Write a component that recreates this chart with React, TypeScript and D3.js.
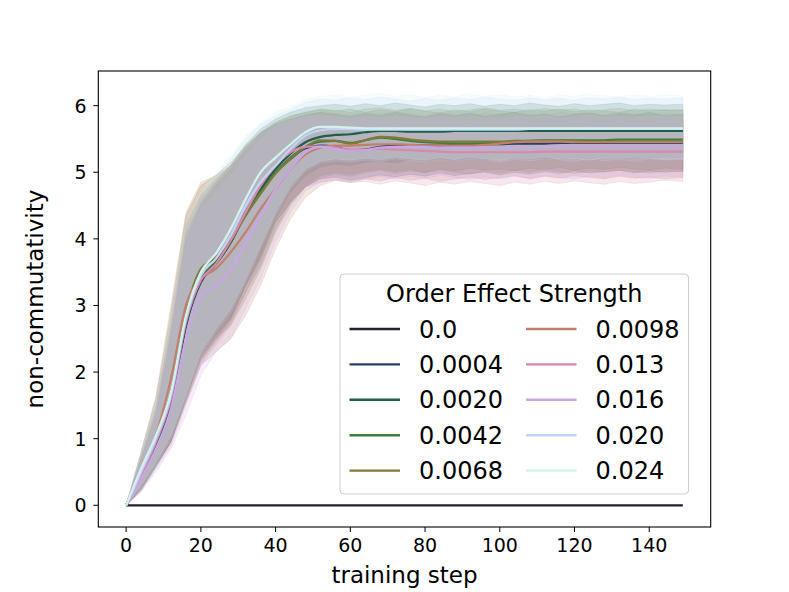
import * as d3 from "d3"

const pasos = [
  0, 4, 8, 12, 16, 20, 24, 28, 32, 36,
  40, 44, 48, 52, 56, 60, 64, 68, 72, 76,
  80, 84, 88, 92, 96, 100, 104, 108, 112, 116,
  120, 124, 128, 132, 136, 140, 144, 149,
]

const etiquetas = ["0.0", "0.0004", "0.0020", "0.0042", "0.0068", "0.0098", "0.013", "0.016", "0.020", "0.024"]
const colores = ["#221d33", "#29405f", "#1e5e4b", "#3f7d3a", "#7d7a3c", "#c1806b", "#d987ae", "#caa6e8", "#c0d4f5", "#d3f2ef"]

const xTicks = [0, 20, 40, 60, 80, 100, 120, 140]
const yTicks = [0, 1, 2, 3, 4, 5, 6]

// medias
const media00 = [
  0, 0, 0, 0, 0, 0, 0, 0, 0, 0,
  0, 0, 0, 0, 0, 0, 0, 0, 0, 0,
  0, 0, 0, 0, 0, 0, 0, 0, 0, 0,
  0, 0, 0, 0, 0, 0, 0, 0,
]
const media0004 = [
  0, 0.45, 0.9, 1.5, 2.7, 3.35, 3.62, 3.95, 4.38, 4.72,
  5.0, 5.2, 5.36, 5.4, 5.38, 5.33, 5.34, 5.38, 5.4, 5.4,
  5.4, 5.4, 5.41, 5.41, 5.42, 5.42, 5.43, 5.43, 5.43, 5.44,
  5.44, 5.44, 5.44, 5.44, 5.44, 5.44, 5.44, 5.44,
]
const media0020 = [
  0, 0.45, 0.9, 1.5, 2.7, 3.38, 3.62, 3.95, 4.4, 4.75,
  5.05, 5.28, 5.45, 5.53, 5.56, 5.57, 5.6, 5.62, 5.62, 5.61,
  5.61, 5.61, 5.62, 5.62, 5.62, 5.62, 5.62, 5.62, 5.62, 5.62,
  5.62, 5.62, 5.62, 5.62, 5.62, 5.62, 5.62, 5.62,
]
const media0042 = [
  0, 0.5, 0.95, 1.58, 2.75, 3.42, 3.66, 3.95, 4.38, 4.7,
  5.0, 5.22, 5.38, 5.46, 5.47, 5.44, 5.48, 5.52, 5.5, 5.47,
  5.45, 5.44, 5.43, 5.43, 5.44, 5.45, 5.46, 5.47, 5.48, 5.48,
  5.48, 5.48, 5.48, 5.49, 5.49, 5.49, 5.49, 5.49,
]
const media0068 = [
  0, 0.5, 1.0, 1.7, 2.9, 3.55, 3.72, 3.98, 4.35, 4.68,
  4.98, 5.2, 5.38, 5.48, 5.47, 5.43, 5.48, 5.53, 5.52, 5.49,
  5.47, 5.46, 5.46, 5.46, 5.46, 5.46, 5.47, 5.47, 5.47, 5.47,
  5.47, 5.46, 5.46, 5.46, 5.46, 5.46, 5.46, 5.46,
]
const media0098 = [
  0, 0.5, 1.05, 1.9, 3.0, 3.4, 3.55, 3.8, 4.1, 4.45,
  4.75, 5.05, 5.27, 5.37, 5.4, 5.4, 5.41, 5.42, 5.42, 5.41,
  5.4, 5.4, 5.4, 5.4, 5.41, 5.43, 5.45, 5.46, 5.46, 5.46,
  5.45, 5.45, 5.45, 5.45, 5.45, 5.45, 5.45, 5.45,
]
const media013 = [
  0, 0.45, 0.95, 1.6, 2.75, 3.38, 3.62, 3.98, 4.4, 4.8,
  5.1, 5.3, 5.38, 5.39, 5.37, 5.34, 5.34, 5.35, 5.34, 5.33,
  5.32, 5.31, 5.3, 5.3, 5.3, 5.3, 5.3, 5.3, 5.31, 5.31,
  5.31, 5.31, 5.31, 5.31, 5.31, 5.31, 5.31, 5.31,
]
const media016 = [
  0, 0.4, 0.85, 1.45, 2.5, 3.15, 3.3, 3.55, 3.95, 4.35,
  4.75, 5.05, 5.3, 5.38, 5.35, 5.32, 5.33, 5.37, 5.38, 5.38,
  5.38, 5.37, 5.37, 5.37, 5.37, 5.37, 5.37, 5.37, 5.38, 5.38,
  5.38, 5.38, 5.38, 5.38, 5.38, 5.38, 5.38, 5.38,
]
const media020 = [
  0, 0.5, 1.0, 1.65, 2.8, 3.45, 3.7, 4.05, 4.5, 4.85,
  5.1, 5.35, 5.55, 5.63, 5.65, 5.65, 5.64, 5.64, 5.64, 5.64,
  5.64, 5.64, 5.64, 5.64, 5.64, 5.64, 5.64, 5.65, 5.65, 5.65,
  5.65, 5.65, 5.65, 5.65, 5.65, 5.65, 5.65, 5.65,
]
const media024 = [
  0, 0.55, 1.05, 1.7, 2.85, 3.5, 3.78, 4.15, 4.6, 5.0,
  5.22, 5.42, 5.6, 5.68, 5.68, 5.67, 5.66, 5.66, 5.66, 5.66,
  5.66, 5.66, 5.66, 5.66, 5.66, 5.66, 5.66, 5.66, 5.66, 5.66,
  5.66, 5.66, 5.66, 5.66, 5.66, 5.66, 5.66, 5.66,
]

// bandas (limite superior / inferior)
const sup0004 = [
  0, 0.7, 1.35, 2.55, 3.95, 4.5, 4.8, 5.05, 5.35, 5.58,
  5.72, 5.8, 5.86, 5.9, 5.87, 5.84, 5.88, 5.85, 5.9, 5.86,
  5.83, 5.88, 5.85, 5.89, 5.84, 5.87, 5.9, 5.85, 5.88, 5.83,
  5.87, 5.89, 5.85, 5.88, 5.86, 5.9, 5.85, 5.87,
]
const inf0004 = [
  0, 0.25, 0.6, 0.95, 1.6, 2.25, 2.55, 2.8, 3.3, 3.7,
  4.25, 4.55, 4.78, 4.9, 4.93, 4.88, 4.92, 4.96, 4.93, 4.97,
  4.94, 4.99, 4.95, 4.98, 5.0, 4.96, 5.0, 4.97, 5.01, 4.98,
  5.02, 4.99, 5.01, 5.03, 4.99, 5.02, 5.0, 5.02,
]
const sup0020 = [
  0, 0.7, 1.4, 2.6, 4.05, 4.55, 4.85, 5.1, 5.42, 5.65,
  5.8, 5.9, 5.97, 6.0, 6.02, 5.99, 6.03, 6.0, 6.04, 6.01,
  5.98, 6.02, 6.0, 6.03, 5.99, 6.02, 6.0, 6.04, 6.01, 5.99,
  6.03, 6.0, 6.02, 6.04, 6.0, 6.02, 6.01, 6.02,
]
const inf0020 = [
  0, 0.22, 0.58, 0.95, 1.6, 2.2, 2.5, 2.8, 3.3, 3.75,
  4.3, 4.7, 4.95, 5.08, 5.12, 5.1, 5.15, 5.17, 5.14, 5.19,
  5.16, 5.2, 5.17, 5.21, 5.18, 5.2, 5.22, 5.19, 5.21, 5.18,
  5.22, 5.2, 5.23, 5.2, 5.22, 5.21, 5.23, 5.22,
]
const sup0042 = [
  0, 0.75, 1.5, 2.75, 4.2, 4.65, 4.9, 5.1, 5.38, 5.6,
  5.74, 5.84, 5.9, 5.94, 5.92, 5.95, 5.9, 5.94, 5.91, 5.95,
  5.92, 5.89, 5.94, 5.91, 5.95, 5.92, 5.9, 5.94, 5.92, 5.95,
  5.91, 5.94, 5.92, 5.9, 5.95, 5.92, 5.94, 5.93,
]
const inf0042 = [
  0, 0.25, 0.6, 0.95, 1.55, 2.15, 2.45, 2.75, 3.2, 3.6,
  4.15, 4.55, 4.8, 4.95, 5.0, 4.97, 5.02, 5.05, 5.01, 5.04,
  5.0, 5.05, 5.02, 5.06, 5.03, 5.05, 5.02, 5.06, 5.04, 5.07,
  5.03, 5.06, 5.04, 5.07, 5.05, 5.03, 5.06, 5.05,
]
const sup0068 = [
  0, 0.8, 1.6, 2.9, 4.35, 4.8, 4.95, 5.15, 5.4, 5.6,
  5.75, 5.85, 5.9, 5.95, 5.93, 5.9, 5.95, 5.97, 5.93, 5.96,
  5.92, 5.95, 5.91, 5.94, 5.97, 5.93, 5.95, 5.92, 5.96, 5.93,
  5.95, 5.91, 5.94, 5.96, 5.92, 5.95, 5.93, 5.94,
]
const inf0068 = [
  0, 0.28, 0.65, 1.0, 1.6, 2.2, 2.5, 2.7, 3.1, 3.55,
  4.1, 4.5, 4.78, 4.92, 4.97, 4.94, 4.99, 5.03, 4.98, 5.02,
  4.99, 5.03, 5.0, 4.97, 5.02, 4.99, 5.03, 5.0, 5.04, 5.01,
  4.98, 5.02, 5.0, 5.03, 5.01, 4.99, 5.02, 5.01,
]
const sup0098 = [
  0, 0.8, 1.65, 3.0, 4.4, 4.85, 4.95, 5.1, 5.3, 5.5,
  5.65, 5.78, 5.85, 5.9, 5.88, 5.86, 5.9, 5.87, 5.91, 5.88,
  5.85, 5.9, 5.87, 5.84, 5.89, 5.86, 5.9, 5.87, 5.85, 5.9,
  5.87, 5.89, 5.86, 5.9, 5.87, 5.85, 5.88, 5.87,
]
const inf0098 = [
  0, 0.25, 0.6, 0.95, 1.55, 2.1, 2.3, 2.5, 2.85, 3.3,
  3.85, 4.3, 4.62, 4.8, 4.88, 4.85, 4.9, 4.87, 4.92, 4.88,
  4.91, 4.86, 4.9, 4.93, 4.89, 4.92, 4.95, 4.9, 4.94, 4.91,
  4.95, 4.92, 4.9, 4.94, 4.91, 4.93, 4.9, 4.92,
]
const sup013 = [
  0, 0.7, 1.45, 2.7, 4.1, 4.6, 4.85, 5.1, 5.38, 5.6,
  5.72, 5.78, 5.8, 5.82, 5.79, 5.76, 5.8, 5.77, 5.74, 5.78,
  5.75, 5.79, 5.76, 5.73, 5.77, 5.75, 5.78, 5.74, 5.77, 5.75,
  5.79, 5.76, 5.74, 5.78, 5.76, 5.75, 5.78, 5.77,
]
const inf013 = [
  0, 0.22, 0.55, 0.9, 1.5, 2.1, 2.4, 2.7, 3.2, 3.7,
  4.25, 4.6, 4.78, 4.85, 4.88, 4.84, 4.86, 4.82, 4.87, 4.84,
  4.8, 4.85, 4.82, 4.86, 4.83, 4.8, 4.85, 4.82, 4.86, 4.83,
  4.87, 4.84, 4.82, 4.86, 4.83, 4.85, 4.88, 4.86,
]
const sup016 = [
  0, 0.75, 1.4, 2.6, 3.95, 4.45, 4.7, 4.95, 5.25, 5.5,
  5.68, 5.78, 5.84, 5.86, 5.83, 5.8, 5.84, 5.81, 5.85, 5.82,
  5.8, 5.84, 5.81, 5.85, 5.82, 5.8, 5.84, 5.82, 5.85, 5.81,
  5.83, 5.86, 5.82, 5.84, 5.81, 5.85, 5.83, 5.84,
]
const inf016 = [
  0, 0.2, 0.5, 0.85, 1.35, 1.95, 2.3, 2.5, 2.95, 3.4,
  3.95, 4.4, 4.72, 4.85, 4.9, 4.86, 4.9, 4.93, 4.9, 4.94,
  4.91, 4.95, 4.92, 4.89, 4.93, 4.9, 4.94, 4.91, 4.95, 4.92,
  4.9, 4.94, 4.92, 4.95, 4.93, 4.91, 4.94, 4.93,
]
const sup020 = [
  0, 0.75, 1.5, 2.75, 4.15, 4.65, 4.95, 5.2, 5.5, 5.72,
  5.85, 5.95, 6.05, 6.1, 6.08, 6.12, 6.09, 6.13, 6.1, 6.07,
  6.11, 6.08, 6.12, 6.09, 6.13, 6.1, 6.08, 6.12, 6.09, 6.11,
  6.08, 6.12, 6.1, 6.13, 6.09, 6.11, 6.1, 6.12,
]
const inf020 = [
  0, 0.27, 0.62, 1.0, 1.6, 2.25, 2.6, 2.9, 3.35, 3.85,
  4.35, 4.75, 5.02, 5.14, 5.17, 5.15, 5.18, 5.16, 5.2, 5.17,
  5.15, 5.19, 5.16, 5.2, 5.18, 5.15, 5.19, 5.17, 5.2, 5.18,
  5.16, 5.2, 5.17, 5.19, 5.16, 5.2, 5.18, 5.19,
]
const sup024 = [
  0, 0.8, 1.55, 2.8, 4.2, 4.7, 5.0, 5.25, 5.55, 5.75,
  5.9, 6.0, 6.1, 6.14, 6.17, 6.13, 6.16, 6.19, 6.14, 6.17,
  6.12, 6.16, 6.13, 6.18, 6.14, 6.17, 6.13, 6.16, 6.12, 6.17,
  6.14, 6.18, 6.15, 6.13, 6.17, 6.14, 6.16, 6.15,
]
const inf024 = [
  0, 0.3, 0.65, 1.05, 1.65, 2.3, 2.65, 2.95, 3.4, 3.9,
  4.4, 4.8, 5.05, 5.17, 5.2, 5.18, 5.21, 5.19, 5.23, 5.2,
  5.18, 5.22, 5.19, 5.23, 5.2, 5.18, 5.22, 5.2, 5.23, 5.19,
  5.21, 5.18, 5.22, 5.2, 5.23, 5.21, 5.19, 5.2,
]

const medias = [media00, media0004, media0020, media0042, media0068, media0098, media013, media016, media020, media024]
const superiores = [media00, sup0004, sup0020, sup0042, sup0068, sup0098, sup013, sup016, sup020, sup024]
const inferiores = [media00, inf0004, inf0020, inf0042, inf0068, inf0098, inf013, inf016, inf020, inf024]

const W = 789
const H = 592
const margen = { left: 98.3, right: 710.7, top: 71, bottom: 527 }
const fuente = "'DejaVu Sans', sans-serif"

export default function App() {
  const x = d3.scaleLinear().domain([-7.45, 156.45]).range([margen.left, margen.right])
  const y = d3.scaleLinear().domain([-0.326, 6.52]).range([margen.bottom, margen.top])

  const linea = d3
    .line<number>()
    .x((_, i) => x(pasos[i]))
    .y((d) => y(d))
    .curve(d3.curveMonotoneX)

  const banda = (s: number) =>
    d3
      .area<number>()
      .x((_, i) => x(pasos[i]))
      .y0((_, i) => y(inferiores[s][i]))
      .y1((d) => y(d))(superiores[s])

  // leyenda
  const leg = { x: 340, y: 274, w: 348.6, h: 220 }
  const filas = [329, 364.4, 399.8, 435.2, 470.6]
  const columnas = [349.5, 526]

  return (
    <svg width={W} height={H} style={{ position: "absolute", left: 0, top: 0, background: "#fff" }} fontFamily={fuente}>
      <rect width={W} height={H} fill="#fff" />
      <defs>
        <clipPath id="recorte">
          <rect x={margen.left} y={margen.top} width={margen.right - margen.left} height={margen.bottom - margen.top} />
        </clipPath>
      </defs>

      <g clipPath="url(#recorte)">
        {etiquetas.map((_, s) =>
          s === 0 ? null : (
            <path key={"b" + s} d={banda(s) || ""} fill={colores[s]} fillOpacity={0.2} stroke={colores[s]} strokeOpacity={0.2} strokeWidth={0.8} />
          )
        )}
        {etiquetas.map((_, s) => (
          <path key={"l" + s} d={linea(medias[s]) || ""} fill="none" stroke={colores[s]} strokeWidth={2.2} strokeLinecap="butt" />
        ))}
      </g>

      {/* ejes */}
      <rect x={margen.left} y={margen.top} width={margen.right - margen.left} height={margen.bottom - margen.top} fill="none" stroke="#000" strokeWidth={1.1} />
      {xTicks.map((t) => (
        <g key={"x" + t}>
          <line x1={x(t)} x2={x(t)} y1={margen.bottom} y2={margen.bottom + 5} stroke="#000" strokeWidth={1} />
          <text x={x(t)} y={552} textAnchor="middle" fontSize={19}>
            {t}
          </text>
        </g>
      ))}
      {yTicks.map((t) => (
        <g key={"y" + t}>
          <line x1={margen.left - 5} x2={margen.left} y1={y(t)} y2={y(t)} stroke="#000" strokeWidth={1} />
          <text x={86.5} y={y(t) + 6.9} textAnchor="end" fontSize={19}>
            {t}
          </text>
        </g>
      ))}
      <text x={(margen.left + margen.right) / 2} y={583} textAnchor="middle" fontSize={23}>
        training step
      </text>
      <text transform={`translate(43,${(margen.top + margen.bottom) / 2}) rotate(-90)`} textAnchor="middle" fontSize={23}>
        non-commutativity
      </text>

      {/* leyenda */}
      <rect x={leg.x} y={leg.y} width={leg.w} height={leg.h} rx={4} fill="#fff" fillOpacity={0.8} stroke="#cccccc" strokeWidth={1} />
      <text x={leg.x + leg.w / 2} y={302} textAnchor="middle" fontSize={24}>
        Order Effect Strength
      </text>
      {etiquetas.map((et, i) => {
        const c = Math.floor(i / 5)
        const f = i % 5
        return (
          <g key={"e" + et}>
            <line x1={columnas[c]} x2={columnas[c] + 50.5} y1={filas[f]} y2={filas[f]} stroke={colores[i]} strokeWidth={2.4} />
            <text x={columnas[c] + 69.5} y={filas[f] + 8.6} fontSize={24}>
              {et}
            </text>
          </g>
        )
      })}
    </svg>
  )
}
